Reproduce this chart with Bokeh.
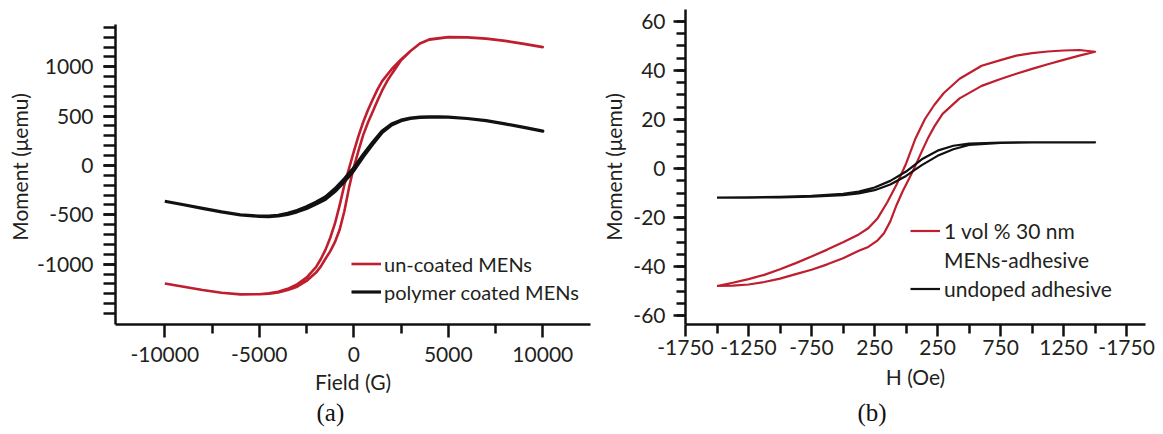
from bokeh.plotting import figure
from bokeh.layouts import row
from bokeh.models import FixedTicker, Legend, LegendItem, Title, Range1d
from bokeh.embed import file_html
from bokeh.resources import INLINE

# ---------------- Panel (a) data ----------------
a_red_asc_H = [-10000, -9000, -8000, -7000, -6000, -5000, -4500, -4000, -3500, -3000, -2500, -2000,
               -1750, -1500, -1250, -1000, -750, -500, -250, 0, 250, 500, 750, 1000, 1250, 1500,
               1750, 2000, 2500, 3000, 3500, 4000, 5000, 6000, 7000, 8000, 9000, 10000]
a_red_asc_M = [-1195, -1228, -1262, -1290, -1306, -1305, -1299, -1286, -1262, -1228, -1170, -1085,
               -1025, -945, -870, -777, -652, -464, -224, -16, 150, 310, 435, 545, 655, 760,
               850, 925, 1065, 1160, 1235, 1277, 1300, 1298, 1285, 1262, 1232, 1199]
a_red_desc_H = [-10000, -9000, -8000, -7000, -6000, -5000, -4500, -4000, -3500, -3000, -2500, -2000,
                -1750, -1500, -1250, -1000, -750, -500, -250, 0, 250, 500, 750, 1000, 1250, 1500,
                2000, 2500, 3000, 3500, 4000, 5000, 6000, 7000, 8000, 9000, 10000]
a_red_desc_M = [-1195, -1228, -1262, -1290, -1306, -1305, -1296, -1280, -1250, -1205, -1135, -1030,
                -950, -855, -735, -590, -405, -197, -30, 140, 300, 440, 562, 668, 768, 855,
                975, 1075, 1160, 1235, 1275, 1300, 1298, 1285, 1262, 1232, 1199]

a_blk_H = [-10000, -9000, -8000, -7000, -6000, -5000, -4500, -4000, -3500, -3000, -2500, -2000,
           -1500, -1000, -500, 0, 500, 1000, 1500, 2000, 2500, 3000, 3500, 4000, 4500, 5000,
           6000, 7000, 8000, 9000, 10000]
a_blk_desc_M = [-362, -398, -435, -470, -500, -514, -514, -505, -485, -456, -418, -372,
                -318, -236, -136, -24, 112, 236, 350, 420, 459, 480, 489, 492, 492, 489,
                476, 454, 422, 386, 348]
a_blk_asc_M = [-362, -398, -435, -470, -500, -516, -518, -511, -495, -470, -436, -392,
               -342, -264, -164, -52, 88, 214, 334, 410, 453, 476, 487, 490, 490, 489,
               476, 454, 422, 386, 348]

a_xticks = [-10000, -5000, 0, 5000, 10000]
a_xlabels = ["-10000", "-5000", "0", "5000", "10000"]
a_xminor = [-7500, -2500, 2500, 7500]
a_yticks = [-1000, -500, 0, 500, 1000]
a_ylabels = ["-1000", "-500", "0", "500", "1000"]
a_yminor = list(range(-1500, 1401, 100))

# ---------------- Panel (b) data ----------------
b_red_desc_H = [-1500, -1375, -1250, -1125, -1000, -875, -750, -625, -500, -375, -300, -225, -150, -75,
                0, 75, 150, 225, 300, 425, 600, 750, 875, 1000, 1125, 1250, 1375, 1500]
b_red_desc_M = [-47.8, -46.5, -45.0, -43.3, -41.0, -38.5, -35.8, -33.0, -30.0, -26.8, -24.3, -20.2, -13.8, -6.5,
                2.0, 12.3, 20.2, 26.0, 30.8, 36.6, 41.9, 44.2, 46.0, 47.0, 47.7, 48.1, 48.3, 47.6]
b_red_asc_H = [-1500, -1375, -1250, -1125, -1000, -875, -750, -625, -500, -375, -300, -225, -175, -125,
               -75, -25, 25, 75, 125, 175, 225, 290, 425, 600, 750, 875, 1000, 1125, 1250, 1375, 1500]
b_red_asc_M = [-47.8, -47.7, -47.2, -46.2, -44.8, -43.0, -41.2, -39.0, -36.5, -33.5, -31.9, -29.2, -26.3, -21.5,
               -14.8, -9.0, -4.0, 1.3, 7.0, 12.5, 17.2, 22.3, 28.6, 33.7, 36.5, 38.6, 40.6, 42.5, 44.3, 46.0, 47.6]

b_blk_H = [-1500, -1250, -1000, -750, -500, -375, -250, -125, 0, 125, 250, 375, 500, 750, 1000, 1250, 1500]
b_blk_desc_M = [-11.8, -11.7, -11.5, -11.1, -10.3, -9.4, -7.7, -5.0, -1.2, 3.8, 7.3, 9.3, 10.2, 10.6, 10.7, 10.7, 10.7]
b_blk_asc_M = [-11.8, -11.8, -11.7, -11.4, -10.8, -10.1, -8.8, -6.5, -3.0, 1.4, 5.2, 7.9, 9.6, 10.5, 10.65, 10.7, 10.7]

b_xticks = [-1750, -1250, -750, -250, 250, 750, 1250, 1750]
b_xlabels = ["-1750", "-1250", "-750", "250", "250", "750", "1250", "-1750"]
b_xminor = [-1500, -1000, -500, 0, 500, 1000, 1500]
b_yticks = [-60, -40, -20, 0, 20, 40, 60]
b_ylabels = ["-60", "-40", "-20", "0", "20", "40", "60"]
b_yminor = list(range(-60, 61, 5))

RED = "#BE1E2D"
BLACK = "#111111"
TXT = "#231F20"
FONT = "Lato"
FS = "21px"


def style_axes(p, xmaj, xlab, xmin, ymaj, ylab, ymin, xmaj_len, xmin_len, ymaj_len, ymin_len,
               xstand, ystand, xlstand, ylstand):
    p.xgrid.visible = False
    p.ygrid.visible = False
    p.outline_line_color = None
    for ax in (p.xaxis[0], p.yaxis[0]):
        ax.axis_line_width = 2.5
        ax.axis_line_color = BLACK
        ax.major_tick_line_width = 2.5
        ax.minor_tick_line_width = 2.5
        ax.major_tick_line_color = BLACK
        ax.minor_tick_line_color = BLACK
        ax.major_tick_in = 0
        ax.minor_tick_in = 0
        ax.major_label_text_font = FONT
        ax.major_label_text_font_size = FS
        ax.major_label_text_color = TXT
        ax.axis_label_text_font = FONT
        ax.axis_label_text_font_size = FS
        ax.axis_label_text_font_style = "normal"
        ax.axis_label_text_color = TXT
    p.xaxis[0].ticker = FixedTicker(ticks=xmaj, minor_ticks=xmin)
    p.yaxis[0].ticker = FixedTicker(ticks=ymaj, minor_ticks=ymin)
    p.xaxis[0].major_label_overrides = {t: s for t, s in zip(xmaj, xlab)}
    p.yaxis[0].major_label_overrides = {t: s for t, s in zip(ymaj, ylab)}
    p.xaxis[0].major_tick_out = xmaj_len
    p.xaxis[0].minor_tick_out = xmin_len
    p.yaxis[0].major_tick_out = ymaj_len
    p.yaxis[0].minor_tick_out = ymin_len
    p.xaxis[0].major_label_standoff = xstand
    p.yaxis[0].major_label_standoff = ystand
    p.xaxis[0].axis_label_standoff = xlstand
    p.yaxis[0].axis_label_standoff = ylstand


# ---------------- Figure (a) ----------------
p1 = figure(width=598, height=434, output_backend="svg", toolbar_location=None,
            x_range=Range1d(-12608, 12524), y_range=Range1d(-1611, 1580),
            min_border_left=115, min_border_right=8, min_border_top=9, min_border_bottom=110,
            x_axis_label="Field (G)", y_axis_label="Moment (\u03bcemu)")
style_axes(p1, a_xticks, a_xlabels, a_xminor, a_yticks, a_ylabels, a_yminor,
           13, 9, 12, 12, 9, 10, 4, 2)
p1.yaxis[0].bounds = (-1611, 1432)

r_a_red = p1.line(a_red_asc_H + a_red_desc_H[::-1], a_red_asc_M + a_red_desc_M[::-1],
                  line_color=RED, line_width=2.6, line_join="round")
r_a_blk = p1.line(a_blk_H + a_blk_H[::-1], a_blk_asc_M + a_blk_desc_M[::-1],
                  line_color=BLACK, line_width=3.2, line_join="round")

leg1 = Legend(items=[LegendItem(label="un-coated MENs", renderers=[r_a_red]),
                     LegendItem(label="polymer coated MENs", renderers=[r_a_blk])],
              location=(236, 20), padding=0, margin=0, spacing=3,
              glyph_width=30, glyph_height=25, label_height=25, label_standoff=3,
              label_text_font=FONT, label_text_font_size="20px", label_text_color=TXT,
              border_line_alpha=0, background_fill_alpha=0)
p1.add_layout(leg1)
p1.add_layout(Title(text="(a)", align="left", offset=201, text_font="Liberation Serif",
                    text_font_size="25px", text_font_style="normal", text_color=BLACK,
                    standoff=0), "below")

# ---------------- Figure (b) ----------------
p2 = figure(width=565, height=434, output_backend="svg", toolbar_location=None,
            x_range=Range1d(-1750, 1900), y_range=Range1d(-63.5, 64.8),
            min_border_left=84, min_border_right=18, min_border_top=9, min_border_bottom=110,
            x_axis_label="H (Oe)", y_axis_label="Moment (\u03bcemu)")
style_axes(p2, b_xticks, b_xlabels, b_xminor, b_yticks, b_ylabels, b_yminor,
           12, 9, 12, 9, 3, 8, 6, 4)

r_b_red = p2.line(b_red_asc_H + b_red_desc_H[::-1], b_red_asc_M + b_red_desc_M[::-1],
                  line_color=RED, line_width=2.2, line_join="round")
r_b_blk = p2.line(b_blk_H + b_blk_H[::-1], b_blk_asc_M + b_blk_desc_M[::-1],
                  line_color=BLACK, line_width=2.2, line_join="round")
r_b_dummy = p2.line(x=[], y=[], line_alpha=0)

leg2 = Legend(items=[LegendItem(label="1 vol % 30 nm", renderers=[r_b_red]),
                     LegendItem(label="MENs-adhesive", renderers=[r_b_dummy]),
                     LegendItem(label="undoped adhesive", renderers=[r_b_blk])],
              location=(225, 23), padding=0, margin=0, spacing=4,
              glyph_width=30, glyph_height=25, label_height=25, label_standoff=4,
              label_text_font=FONT, label_text_font_size="21px", label_text_color=TXT,
              border_line_alpha=0, background_fill_alpha=0)
p2.add_layout(leg2)
p2.add_layout(Title(text="(b)", align="left", offset=172, text_font="Liberation Serif",
                    text_font_size="25px", text_font_style="normal", text_color=BLACK), "below")

layout = row(p1, p2)
open("out.html", "w").write(file_html(layout, INLINE))
